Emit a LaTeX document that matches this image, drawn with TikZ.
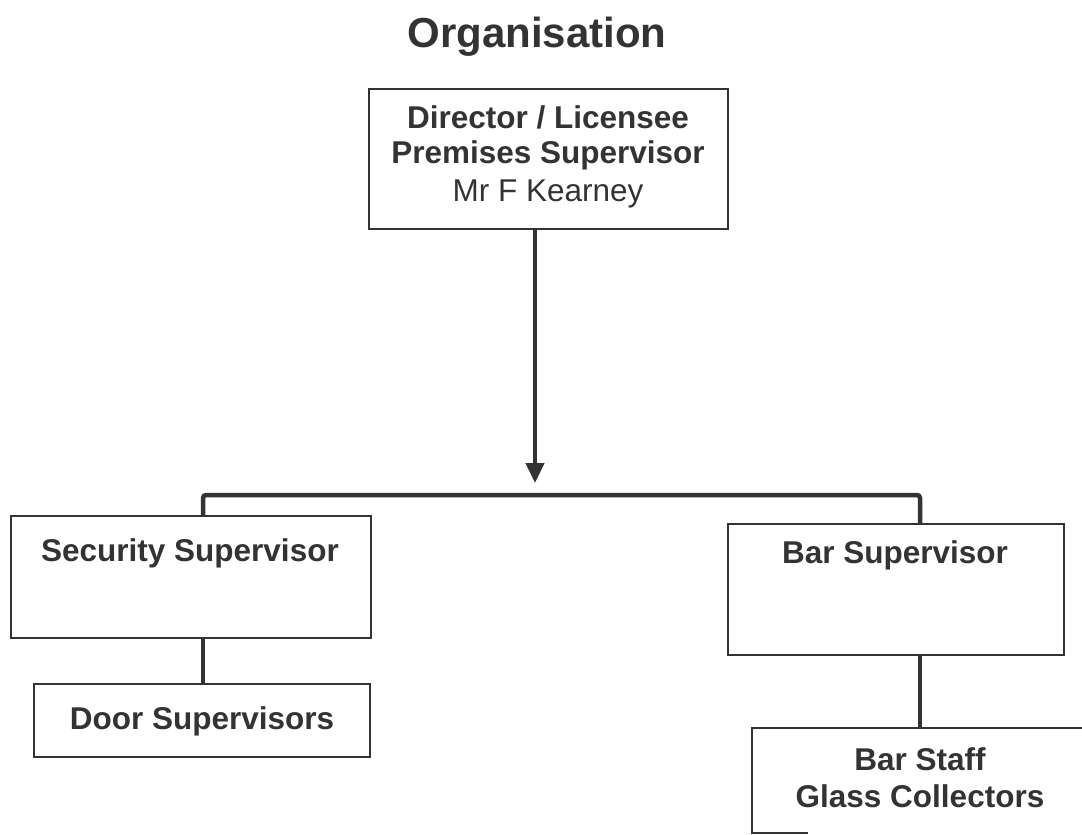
\documentclass[tikz,border=0pt]{standalone}
\usepackage{fontspec}
\setmainfont{Liberation Sans}
\usetikzlibrary{arrows.meta}
\definecolor{ink}{HTML}{333333}
\begin{document}
\begin{tikzpicture}[x=1pt,y=-1pt,
  box/.style={draw=ink, line width=2pt, rectangle, inner sep=0pt, anchor=north west},
  lbl/.style={text=ink, font=\fontsize{31.5}{38}\selectfont\bfseries, anchor=base, inner sep=0pt},
  lblr/.style={text=ink, font=\fontsize{31.5}{38}\selectfont, anchor=base, inner sep=0pt},
  conn/.style={draw=ink, line width=4.5pt}]
\useasboundingbox (0,0) rectangle (1082,835);
% title
\node[text=ink, font=\fontsize{42}{50}\selectfont\bfseries, anchor=base, inner sep=0pt] (title) at (537,47) {Organisation};
% top box
\node[box, minimum width=359pt, minimum height=140pt] (top) at (368,88) {};
\node[lbl] (t1) at (548,128) {Director / Licensee};
\node[lbl] (t2) at (548,163) {Premises Supervisor};
\node[lblr] (t3) at (548,201) {Mr F Kearney};
% second level boxes
\node[box, minimum width=360pt, minimum height=122pt] (sec) at (10,515) {};
\node[lbl] (sect) at (190,561) {Security Supervisor};
\node[box, minimum width=336pt, minimum height=131pt] (bar) at (727,523) {};
\node[lbl] (bart) at (895,563) {Bar Supervisor};
% third level
\node[box, minimum width=336pt, minimum height=73pt] (door) at (33,683) {};
\node[lbl] (doort) at (202,729) {Door Supervisors};
\coordinate (bsNW) at (752,728);
\coordinate (bsNE) at (1090,728);
\coordinate (bsSW) at (752,833);
\coordinate (bsSE) at (808,833);
\draw[ink, line width=2pt] (bsNE) -- (bsNW) -- (bsSW) -- (bsSE);
\node[lbl] (bst1) at (920,770) {Bar Staff};
\node[lbl] (bst2) at (920,807) {Glass Collectors};
% connectors
\coordinate (arrowtip) at (535,483);
\draw[conn, -{Triangle[width=18pt,length=20pt]}] (arrowtip |- top.south) -- (arrowtip);
\coordinate (busL) at (203,495);
\coordinate (busR) at (920,495);
\draw[conn, rounded corners=3pt] (busL |- sec.north) -- (busL) -- (busR) -- (busR |- bar.north);
\draw[conn] (busL |- sec.south) -- (busL |- door.north);
\draw[conn] (busR |- bar.south) -- (busR |- bsNW);
\end{tikzpicture}
\end{document}
